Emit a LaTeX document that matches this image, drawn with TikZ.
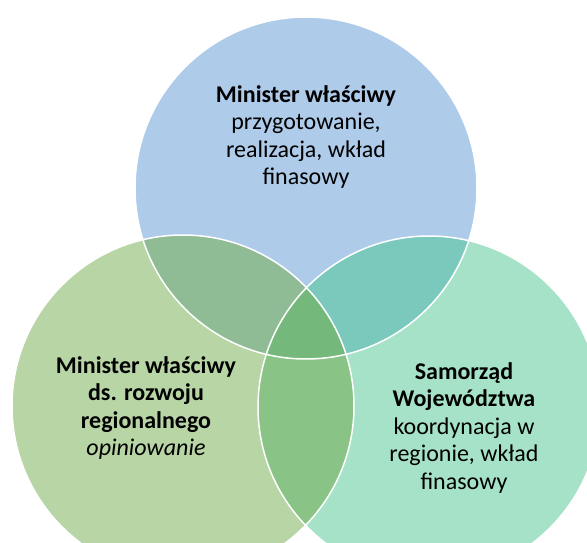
\documentclass[tikz,border=0pt]{standalone}
\usepackage{fontspec}
\setmainfont{Carlito}
\usetikzlibrary{positioning}
\definecolor{cblue}{HTML}{AECBEA}
\definecolor{cgreen}{HTML}{B7D5A5}
\definecolor{cteal}{HTML}{A6E2C8}
\definecolor{cbluegreen}{HTML}{8FBB95}
\definecolor{cblueteal}{HTML}{7BC8BC}
\definecolor{cgreenteal}{HTML}{89C385}
\definecolor{cmid}{HTML}{74B97B}
\begin{document}
\begin{tikzpicture}[x=1pt,y=-1pt,font=\fontsize{24}{27.5}\selectfont,
  lbl/.style={align=center,text=black,inner sep=0pt},
  rim/.style={draw=white,line width=1.5pt}]
  \useasboundingbox (0,0) rectangle (587,543);
  \coordinate (top) at (306,188);
  \coordinate (lft) at (183,406);
  \coordinate (rgt) at (429,407);
  % circles
  \fill[cblue] (top) circle (171pt);
  \fill[cgreen] (lft) circle (171pt);
  \fill[cteal] (rgt) circle (171pt);
  % overlaps
  \begin{scope}
    \clip (top) circle (171pt);
    \fill[cbluegreen] (lft) circle (171pt);
    \fill[cblueteal] (rgt) circle (171pt);
  \end{scope}
  \begin{scope}
    \clip (lft) circle (171pt);
    \fill[cgreenteal] (rgt) circle (171pt);
    \clip (rgt) circle (171pt);
    \fill[cmid] (top) circle (171pt);
  \end{scope}
  \draw[rim] (top) circle (171pt) (lft) circle (171pt) (rgt) circle (171pt);
  % labels
  \node[lbl] (ttop) at (306,137) {\textbf{Minister właściwy}\\przygotowanie,\\realizacja, wkład\\finasowy};
  \node[lbl] (tlft) at (146,408) {\textbf{Minister właściwy}\\\textbf{ds. rozwoju}\\\textbf{regionalnego}\\\textit{opiniowanie}};
  \node[lbl] (trgt) at (464,428) {\textbf{Samorząd}\\\textbf{Województwa}\\koordynacja w\\regionie, wkład\\finasowy};
\end{tikzpicture}
\end{document}
